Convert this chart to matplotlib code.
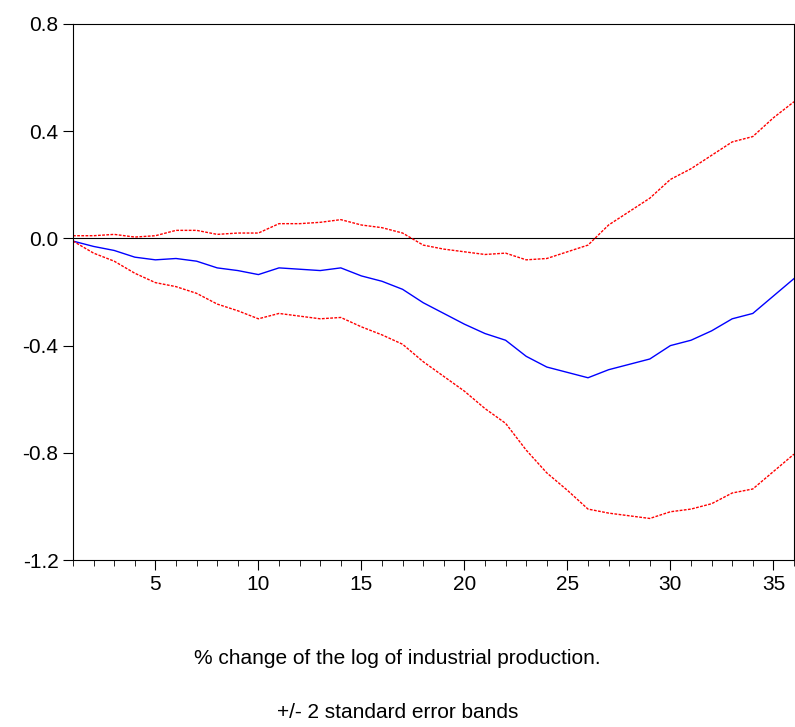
import numpy as np
import matplotlib.pyplot as plt

plt.rcParams['font.family'] = ['Liberation Sans', 'DejaVu Sans']

steps = np.arange(1, 37)
response = [-0.01, -0.03, -0.045, -0.07, -0.08, -0.075, -0.085, -0.11, -0.12, -0.135,
            -0.11, -0.115, -0.12, -0.11, -0.14, -0.16, -0.19, -0.24, -0.28, -0.32,
            -0.355, -0.38, -0.44, -0.48, -0.50, -0.52, -0.49, -0.47, -0.45, -0.40,
            -0.38, -0.345, -0.30, -0.28, -0.215, -0.15]
upper = [0.01, 0.01, 0.015, 0.005, 0.01, 0.03, 0.03, 0.015, 0.02, 0.02,
         0.055, 0.055, 0.06, 0.07, 0.05, 0.04, 0.02, -0.025, -0.04, -0.05,
         -0.06, -0.055, -0.08, -0.075, -0.05, -0.025, 0.05, 0.1, 0.15, 0.22,
         0.26, 0.31, 0.36, 0.38, 0.45, 0.51]
lower = [-0.01, -0.055, -0.085, -0.13, -0.165, -0.18, -0.205, -0.245, -0.27, -0.3,
         -0.28, -0.29, -0.3, -0.295, -0.33, -0.36, -0.395, -0.46, -0.515, -0.57,
         -0.635, -0.69, -0.79, -0.875, -0.94, -1.01, -1.025, -1.035, -1.045, -1.02,
         -1.01, -0.99, -0.95, -0.935, -0.87, -0.805]

fig = plt.figure(figsize=(7.95, 7.27), dpi=100)
ax = fig.add_axes([73/795, 1-560/727, 721/795, 536/727])
ax.axhline(0, color='black', lw=0.8)
ax.plot(steps, response, color='blue', lw=1)
ax.plot(steps, upper, color='red', lw=1, ls=(0, (2, 1)))
ax.plot(steps, lower, color='red', lw=1, ls=(0, (2, 1)))
ax.set_xlim(1, 36)
ax.set_ylim(-1.2, 0.8)
ax.set_xticks(range(5, 36, 5))
ax.set_xticks(range(1, 37), minor=True)
ax.set_yticks([-1.2, -0.8, -0.4, 0.0, 0.4, 0.8])
ax.set_yticklabels(['-1.2', '-0.8', '-0.4', '0.0', '0.4', '0.8'])
ax.tick_params(labelsize=15, length=7)
ax.tick_params(which='minor', length=4)
fig.text(0.5, 1-658/727, '% change of the log of industrial production.', ha='center', va='center', fontsize=15)
fig.text(0.5, 1-712/727, '+/- 2 standard error bands', ha='center', va='center', fontsize=15)
fig.savefig('out.png')
